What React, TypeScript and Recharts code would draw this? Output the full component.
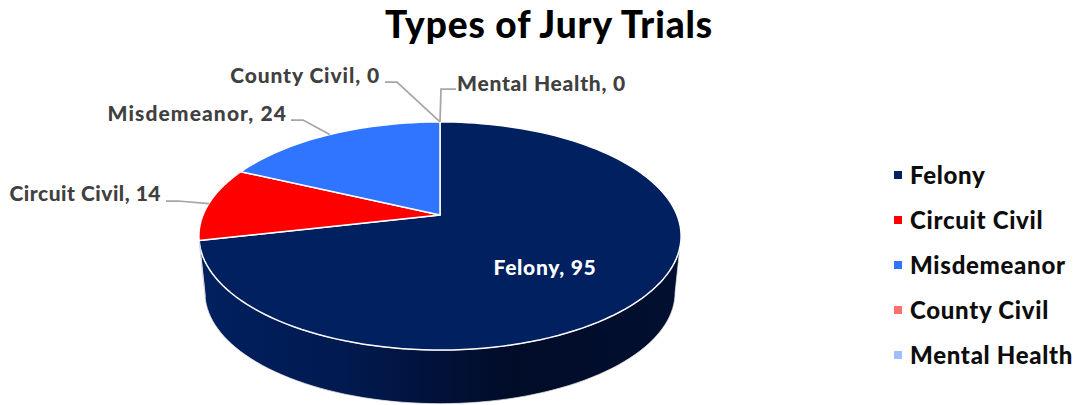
import { Legend, Pie, PieChart } from "recharts";

const categories = ["Felony", "Circuit Civil", "Misdemeanor", "County Civil", "Mental Health"];
const values = [95, 14, 24, 0, 0];
const colors = ["#002060", "#FF0000", "#3075FF", "#FF6F6F", "#A0BEFF"];

const data = categories.map((name, i) => ({ name, value: values[i], fill: colors[i] }));

// label text anchors and leader elbows, by category
const labelLayout = [
  { x: 545, y: 275, anchor: "middle", color: "#FFFFFF", spacing: 0.7 },
  { x: 161, y: 201, anchor: "end", color: "#404040", spacing: 0.5, elbow: [166, 178, 201] },
  { x: 287, y: 121, anchor: "end", color: "#404040", spacing: 1.1, elbow: [291, 303, 120] },
  { x: 380, y: 83, anchor: "end", color: "#404040", spacing: 0.9, elbow: [385, 397, 82] },
  { x: 457, y: 91, anchor: "start", color: "#404040", spacing: 0.75, elbow: [456, 441, 89] },
];

const FONT = "Lato, sans-serif";
const CX = 440;
const CY = 215;
const RADIUS = 237;
const FLATTEN = 0.465; // vertical squash of the tilted disc
const TILT = 0.184; // perspective, far edge smaller than near edge
const WALL_DROP = 57;
const WALL_SCALE = 0.975;

// angle in degrees (recharts convention) -> point on the tilted disc
const rim = (deg: number, scale = 1, drop = 0) => {
  const a = (deg * Math.PI) / 180;
  const w = 1 + TILT * Math.sin(a);
  return [
    CX + (scale * RADIUS * Math.cos(a)) / w,
    CY + drop - (scale * RADIUS * FLATTEN * Math.sin(a)) / w,
  ];
};

const arc = (from: number, to: number, scale = 1, drop = 0) => {
  const steps = Math.max(2, Math.ceil(Math.abs(from - to) / 2));
  const pts = [];
  for (let i = 0; i <= steps; i++) {
    const p = rim(from + ((to - from) * i) / steps, scale, drop);
    pts.push(`${p[0].toFixed(2)} ${p[1].toFixed(2)}`);
  }
  return pts;
};

const TiltedSector = (props: any) => {
  const { startAngle, endAngle, fill } = props;
  if (startAngle === endAngle) return null;
  const wallFrom = Math.min(startAngle, -10.6);
  const wallTo = Math.max(endAngle, -169.4);
  return (
    <g>
      {wallFrom > wallTo && (
        <path
          d={`M${arc(wallFrom, wallTo).join("L")}L${arc(wallTo, wallFrom, WALL_SCALE, WALL_DROP).join("L")}Z`}
          fill="url(#wallShade)"
          stroke="#E4E4E4"
          strokeWidth={0.75}
        />
      )}
      <path
        d={`M${CX} ${CY}L${arc(startAngle, endAngle).join("L")}Z`}
        fill={fill}
        stroke="#FFFFFF"
        strokeWidth={1.5}
        strokeLinejoin="round"
      />
    </g>
  );
};

const renderLabel = (props: any) => {
  const { index, name, value, midAngle } = props;
  const l = labelLayout[index];
  const p = rim(midAngle);
  return (
    <g>
      {l.elbow && (
        <polyline
          points={`${l.elbow[0]},${l.elbow[2]} ${l.elbow[1]},${l.elbow[2]} ${p[0]},${p[1]}`}
          fill="none"
          stroke="#A6A6A6"
          strokeWidth={1.75}
        />
      )}
      <text
        x={l.x}
        y={l.y}
        textAnchor={l.anchor}
        fill={l.color}
        fontFamily={FONT}
        fontWeight={900}
        fontSize={21}
        letterSpacing={l.spacing}
      >
        {`${name}, ${value}`}
      </text>
    </g>
  );
};

const renderLegend = (props: any) => (
  <div style={{ fontFamily: FONT, fontWeight: 900, fontSize: 24, letterSpacing: 0.7, color: "#0D0D0D" }}>
    {props.payload.map((item: any) => (
      <div key={item.value} style={{ display: "flex", alignItems: "center", height: 45, whiteSpace: "nowrap" }}>
        <span style={{ width: 8, height: 8, background: item.color, marginRight: 8 }} />
        {item.value}
      </div>
    ))}
  </div>
);

export default function App() {
  return (
    <div style={{ position: "absolute", left: 0, top: 0, width: 1076, height: 405, overflow: "hidden", background: "#FFFFFF" }}>
      <PieChart width={1076} height={405} margin={{ top: 0, right: 0, bottom: 0, left: 0 }}>
        <defs>
          <linearGradient id="wallShade" gradientUnits="userSpaceOnUse" x1={198} y1={0} x2={681} y2={0}>
            <stop offset="0" stopColor="#00205F" />
            <stop offset="0.3" stopColor="#011A50" />
            <stop offset="0.65" stopColor="#010C28" />
            <stop offset="1" stopColor="#020F30" />
          </linearGradient>
        </defs>
        <text
          x={549}
          y={38}
          textAnchor="middle"
          fill="#000000"
          fontFamily={FONT}
          fontWeight={900}
          fontSize={37}
          letterSpacing={0.9}
        >
          Types of Jury Trials
        </text>
        <Pie
          data={data}
          dataKey="value"
          nameKey="name"
          cx={CX}
          cy={CY}
          outerRadius={RADIUS}
          startAngle={90}
          endAngle={-270}
          shape={TiltedSector}
          label={renderLabel}
          labelLine={false}
          isAnimationActive={false}
        />
        <Legend
          layout="vertical"
          align="right"
          verticalAlign="top"
          itemSorter={null}
          content={renderLegend}
          wrapperStyle={{ left: 894, top: 152, width: 182 }}
        />
      </PieChart>
    </div>
  );
}
